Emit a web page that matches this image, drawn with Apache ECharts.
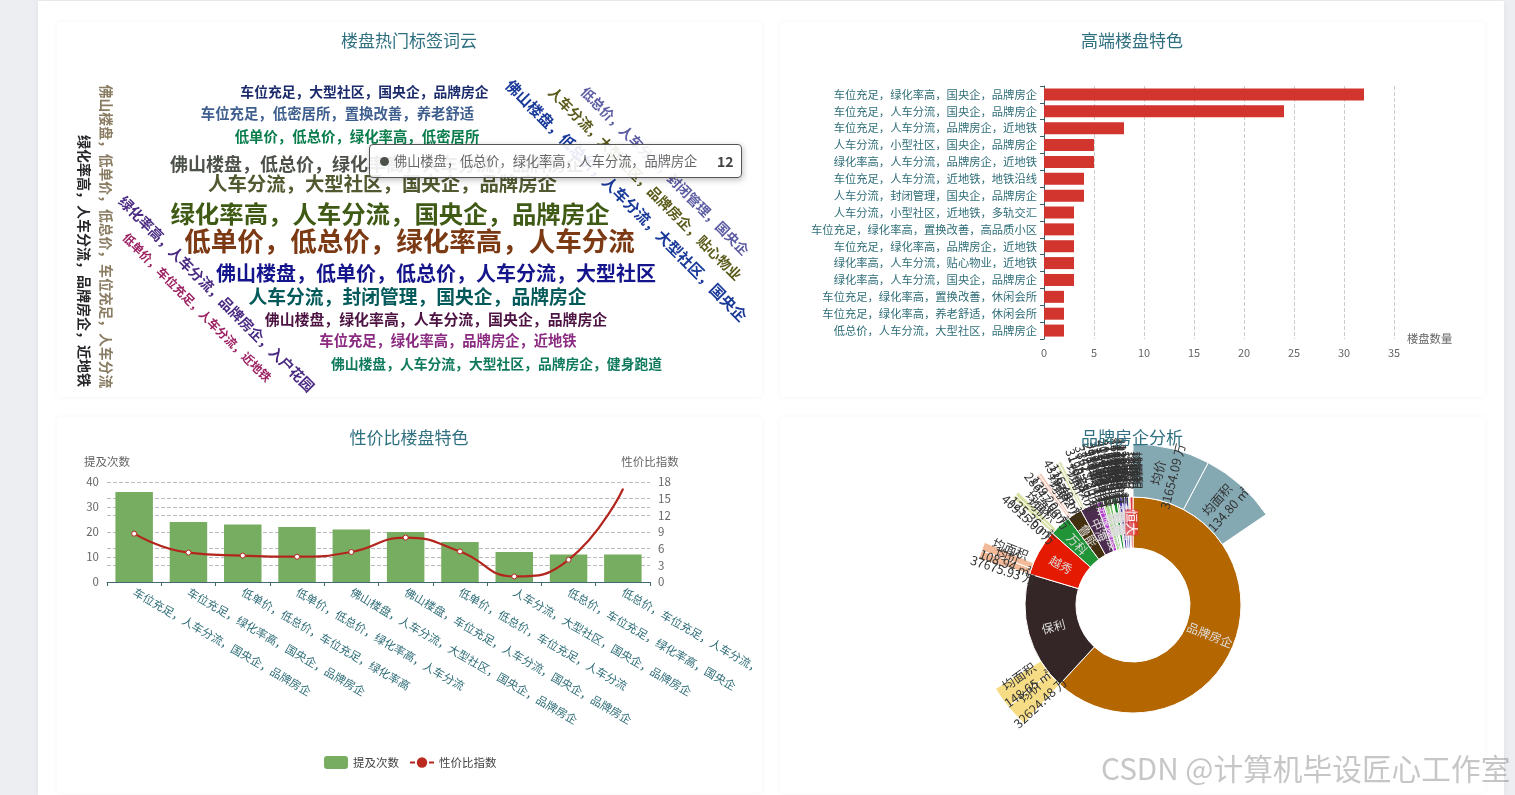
<!DOCTYPE html>
<html><head><meta charset="utf-8">
<script src="https://cdn.jsdelivr.net/npm/echarts@6/dist/echarts.min.js"></script>
<style>
html,body{margin:0;padding:0;width:1515px;height:795px;overflow:hidden;background:#eceef2;font-family:"Noto Sans CJK SC","Noto Sans",sans-serif}
#panel{position:absolute;left:38px;top:1px;width:1466px;height:794px;background:#fff;box-shadow:0 0 6px rgba(0,0,0,.06)}
.card{position:absolute;width:705px;background:#fff;border-radius:4px;box-shadow:0 0 6px rgba(0,0,0,.045)}
.chart{position:absolute}
#mark{position:absolute;left:1101px;top:748px;font-size:29.7px;line-height:40px;color:rgba(120,120,120,.42);white-space:nowrap}
</style></head><body>
<div id="panel"></div>
<div class="card" style="left:57px;top:22px;height:375px"></div>
<div class="card" style="left:780px;top:22px;height:375px"></div>
<div class="card" style="left:57px;top:417px;height:376px"></div>
<div class="card" style="left:780px;top:417px;height:376px"></div>
<div class="chart" id="c1" style="left:57px;top:22px;width:705px;height:375px"></div>
<div class="chart" id="c2" style="left:780px;top:22px;width:705px;height:375px"></div>
<div class="chart" id="c3" style="left:57px;top:417px;width:695px;height:376px"></div>
<div class="chart" id="c4" style="left:780px;top:417px;width:705px;height:376px"></div>
<div id="mark">CSDN @计算机毕设匠心工作室</div>
<script>
const FONT='"Noto Sans CJK SC","Noto Sans",sans-serif';
const TITLE_COLOR='#2f7080', LABEL_COLOR='#2f6d78', GREY='#666';

/* ---------- word cloud ---------- */
const cloudWords=[
'车位充足，大型社区，国央企，品牌房企','车位充足，低密居所，置换改善，养老舒适','低单价，低总价，绿化率高，低密居所',
'佛山楼盘，低总价，绿化率高，人车分流，品牌房企','人车分流，大型社区，国央企，品牌房企','绿化率高，人车分流，国央企，品牌房企',
'低单价，低总价，绿化率高，人车分流','佛山楼盘，低单价，低总价，人车分流，大型社区','人车分流，封闭管理，国央企，品牌房企',
'佛山楼盘，绿化率高，人车分流，国央企，品牌房企','车位充足，绿化率高，品牌房企，近地铁','佛山楼盘，人车分流，大型社区，品牌房企，健身跑道',
'佛山楼盘，低单价，低总价，车位充足，人车分流','绿化率高，人车分流，品牌房企，近地铁','绿化率高，人车分流，品牌房企，入户花园',
'低单价，车位充足，人车分流，近地铁','佛山楼盘，低总价，人车分流，大型社区，国央企','人车分流，大型社区，品牌房企，贴心物业','低总价，人车分流，封闭管理，国央企'];
const cloudValues=[8,9,9,12,16,22,24,15,14,9,9,8,8,8,9,7,10,9,7];
const cloudX=[364.5,337.5,357,377,382.5,390,409.5,436,417.5,436,448,496.5,106,84,216.5,197,626.5,645,665];
const cloudY=[92,114,137,164,184,214,241,273,297,319,341,364,236.5,261,294,307.5,200.5,183.5,171];
const cloudRotate=[0,0,0,0,0,0,0,0,0,0,0,0,-90,-90,-45,-45,-45,-45,-45];
const cloudSize=[13.8,14.4,14.4,18,19.4,24.4,26.5,20,18.8,14.9,14.3,13.8,13.8,14,14.2,12,15.2,14,13.6];
const cloudColor=['#1b2a6b','#3f5f8f','#0a7d4c','#4c514a','#50592f','#3f5a14','#7c3a14','#14148c','#045a5a','#4c1242','#8a2a80','#0f7a5c','#8a7c62','#26262a','#4a2a82','#9c2162','#1a3a9a','#5a5a1a','#5c5ca2'];
const tooltipIndex=3;

/* ---------- premium bar ---------- */
const premiumCats=['车位充足，绿化率高，国央企，品牌房企','车位充足，人车分流，国央企，品牌房企','车位充足，人车分流，品牌房企，近地铁','人车分流，小型社区，国央企，品牌房企','绿化率高，人车分流，品牌房企，近地铁','车位充足，人车分流，近地铁，地铁沿线','人车分流，封闭管理，国央企，品牌房企','人车分流，小型社区，近地铁，多轨交汇','车位充足，绿化率高，置换改善，高品质小区','车位充足，绿化率高，品牌房企，近地铁','绿化率高，人车分流，贴心物业，近地铁','绿化率高，人车分流，国央企，品牌房企','车位充足，绿化率高，置换改善，休闲会所','车位充足，绿化率高，养老舒适，休闲会所','低总价，人车分流，大型社区，品牌房企'];
const premiumValues=[32,24,8,5,5,4,4,3,3,3,3,3,2,2,2];

/* ---------- value combo ---------- */
const valueCats=['车位充足，人车分流，国央企，品牌房企','车位充足，绿化率高，国央企，品牌房企','低单价，低总价，车位充足，绿化率高','低单价，低总价，绿化率高，人车分流','佛山楼盘，人车分流，大型社区，国央企，品牌房企','佛山楼盘，车位充足，人车分流，国央企，品牌房企','低单价，低总价，车位充足，人车分流','人车分流，大型社区，国央企，品牌房企','低总价，车位充足，绿化率高，国央企','低总价，车位充足，人车分流，国央企'];
const mentionValues=[36,24,23,22,21,20,16,12,11,11];
const ratioValues=[8.7,5.3,4.75,4.55,5.4,8.0,5.5,1.0,4.0,16.7];

/* ---------- brand sunburst ---------- */
const brandNames=['品牌房企','保利','越秀','万科','鲁能','中海','新城控股','绿城','金地','龙湖','招商','华润','融创','碧桂园','世茂','旭辉','恒大'];
const brandValues=[222.7,64,25,11.5,8,9,3.5,3,1.5,1,2,1,2,2,1.5,0.7,1.6];
const brandColors=['#b46600','#342526','#e41a02','#219438','#43300f','#4d2d4f','#b934d4','#a9d88e','#6cb85c','#d9f0c0','#108c2a','#7a9a6a','#4b3aaa','#9b91d9','#3a3a98','#d9b83a','#e5323c'];
const priceShare=[27.9,8,3.1,1.44,1,1.13,0.44,0.38,0.19,0.13,0.25,0.13,0.25,0.25,0.19,0.09,0.2];
const areaShare=[27.9,8,3.1,1.44,1,1.13,0.44,0.38,0.19,0.13,0.25,0.13,0.25,0.25,0.19,0.09,0.2];
const avgPrice=['31654.09','32624.48','37675.93','40915.00','28647.66','43397.52','31903.87','38613.20','29845.31','35120.64','33871.09','41562.77','30218.45','27654.38','36490.12','34102.56','39287.41'];
const avgArea=['134.80','148.65','108.94','125.36','139.20','116.40','128.75','142.18','119.63','131.27','137.94','122.05','145.32','113.88','126.49','133.16','120.72'];
const outerColors=['#85a9b3','#f6dd85','#f2ba98','#d9e0a4','#f3c9bb','#dbe3b4','#f2efc8','#ece8cf','#e8eccb','#f0ead0','#ecefd6','#efe6cf','#e8ecd9','#f0efd9','#ece6d6','#e6ead8','#efecd9'];

const titleStyle={fontFamily:FONT,fontSize:17,fontWeight:'normal',color:TITLE_COLOR};
const chart1=echarts.init(document.getElementById('c1'));
chart1.setOption({
  animation:false,
  title:{text:'楼盘热门标签词云',left:347,top:5,textAlign:'center',textStyle:titleStyle},
  grid:{left:0,right:0,top:0,bottom:0,outerBoundsMode:'none'},
  xAxis:{type:'value',min:57,max:762,show:false},
  yAxis:{type:'value',min:22,max:397,inverse:true,show:false},
  tooltip:{trigger:'item',alwaysShowContent:true,transitionDuration:0,showDelay:0,position:[312,122],padding:0,
    backgroundColor:'rgba(255,255,255,0.9)',borderColor:'#555',borderWidth:1,extraCssText:'border-radius:4px;box-shadow:1px 2px 6px rgba(0,0,0,.25);',
    formatter:p=>'<div style="width:371px;height:32px;line-height:32px;position:relative;font-family:'+"'Noto Sans CJK SC'"+';font-size:13.2px;color:#666;white-space:nowrap">'
      +'<span style="position:absolute;left:10px;top:12px;width:9px;height:9px;border-radius:5px;background:#4c514a"></span>'
      +'<span style="position:absolute;left:24px">'+p.name+'</span>'
      +'<span style="position:absolute;left:347px;font-size:14px;font-weight:bold;color:#444">'+p.value[2]+'</span></div>'},
  series:[{type:'scatter',symbolSize:1,itemStyle:{color:'rgba(0,0,0,0)',opacity:1},emphasis:{disabled:true},
    data:cloudWords.map((w,i)=>({name:w,value:[cloudX[i],cloudY[i],cloudValues[i]],
      label:{show:true,position:'inside',formatter:'{b}',rotate:cloudRotate[i],fontSize:cloudSize[i],fontWeight:'bold',fontFamily:FONT,color:cloudColor[i],opacity:1}}))}]
});
chart1.dispatchAction({type:'showTip',seriesIndex:0,dataIndex:tooltipIndex});

const chart2=echarts.init(document.getElementById('c2'));
chart2.setOption({
  animation:false,
  title:{text:'高端楼盘特色',left:347,top:5,textAlign:'center',textStyle:titleStyle},
  grid:{left:264,top:64,width:350,height:253,outerBoundsMode:'none'},
  xAxis:{type:'value',min:0,max:35,interval:5,name:'楼盘数量',nameGap:13,nameTextStyle:{fontFamily:FONT,fontSize:11.3,color:GREY},
    axisLine:{show:false},axisTick:{show:false},axisLabel:{fontFamily:FONT,fontSize:11,color:GREY,margin:8},
    splitLine:{show:true,lineStyle:{type:'dashed',color:'#ccc'}}},
  yAxis:{type:'category',inverse:true,data:premiumCats,axisLine:{show:true,lineStyle:{color:'#3f5f68'}},axisTick:{show:true,lineStyle:{color:'#3f5f68'},length:4},
    axisLabel:{fontFamily:FONT,fontSize:11.3,color:LABEL_COLOR,margin:7}},
  series:[{type:'bar',data:premiumValues,barWidth:12,itemStyle:{color:'#d1352d'}}]
});

const chart3=echarts.init(document.getElementById('c3'));
chart3.setOption({
  animation:false,
  title:{text:'性价比楼盘特色',left:347,top:7,textAlign:'center',textStyle:titleStyle},
  legend:{left:262,top:334,itemWidth:24,itemHeight:13,itemGap:10,textStyle:{fontFamily:FONT,fontSize:11.5,color:'#444'},data:['提及次数',{name:'性价比指数',lineStyle:{type:[5,14],width:2}}]},
  grid:{left:50,top:65,width:543,height:100,outerBoundsMode:'none'},
  xAxis:{type:'category',data:valueCats,axisLine:{show:true,lineStyle:{color:'#3f6a72'}},axisTick:{show:true,alignWithLabel:false,lineStyle:{color:'#3f6a72'},length:4},
    axisLabel:{interval:0,rotate:-30,fontFamily:FONT,fontSize:11.3,color:LABEL_COLOR,margin:9,hideOverlap:false}},
  yAxis:[
    {type:'value',min:0,max:40,interval:10,name:'提及次数',nameGap:15,nameTextStyle:{fontFamily:FONT,fontSize:11.5,color:GREY},
      axisLine:{show:false},axisTick:{show:false},axisLabel:{fontFamily:FONT,fontSize:11.5,color:GREY},splitLine:{lineStyle:{type:'dashed',color:'#bbb'}}},
    {type:'value',min:0,max:18,interval:3,name:'性价比指数',nameGap:15,nameTextStyle:{fontFamily:FONT,fontSize:11.5,color:GREY},
      axisLine:{show:false},axisTick:{show:false},axisLabel:{fontFamily:FONT,fontSize:11.5,color:GREY},splitLine:{lineStyle:{type:'dashed',color:'#bbb'}}}
  ],
  series:[
    {name:'提及次数',type:'bar',data:mentionValues,barWidth:37.5,itemStyle:{color:'#77ad60'}},
    {name:'性价比指数',type:'line',yAxisIndex:1,smooth:true,symbol:'circle',symbolSize:5,data:ratioValues.map((v,i)=>i<ratioValues.length-1?{value:v,itemStyle:{color:'#fff',borderColor:'#b3261e',borderWidth:1}}:{value:v,symbolSize:2}),
      itemStyle:{color:'#bb2a1e'},lineStyle:{color:'#b3261e',width:2.2}}
  ]
});

const chart4=echarts.init(document.getElementById('c4'));
chart4.setOption({
  animation:false,
  title:{text:'品牌房企分析',left:347,top:7,textAlign:'center',textStyle:titleStyle},
  series:[{type:'sunburst',sort:null,center:[353,188],radius:[57,161],startAngle:90,
    emphasis:{disabled:true},
    itemStyle:{borderColor:'#fff',borderWidth:1},
    levels:[{},
      {r0:57,r:108,label:{rotate:'radial',fontFamily:FONT,fontSize:12,color:'#ddd'}},
      {r0:108,r:161,label:{rotate:'radial',fontFamily:FONT,fontSize:12.5,color:'#333',lineHeight:15}}],
    data:brandNames.map((n,i)=>({name:n,value:brandValues[i],itemStyle:{color:brandColors[i]},
      label:n==='恒大'?{backgroundColor:'rgba(229,50,60,.7)',color:'#fff',fontSize:13}:{},
      children:[
        {name:'均价\n'+avgPrice[i]+' 万',value:priceShare[i],itemStyle:{color:outerColors[i]}},
        {name:'均面积\n'+avgArea[i]+' ㎡',value:areaShare[i],itemStyle:{color:outerColors[i]}}
      ]}))
  }]
});
</script></body></html>
